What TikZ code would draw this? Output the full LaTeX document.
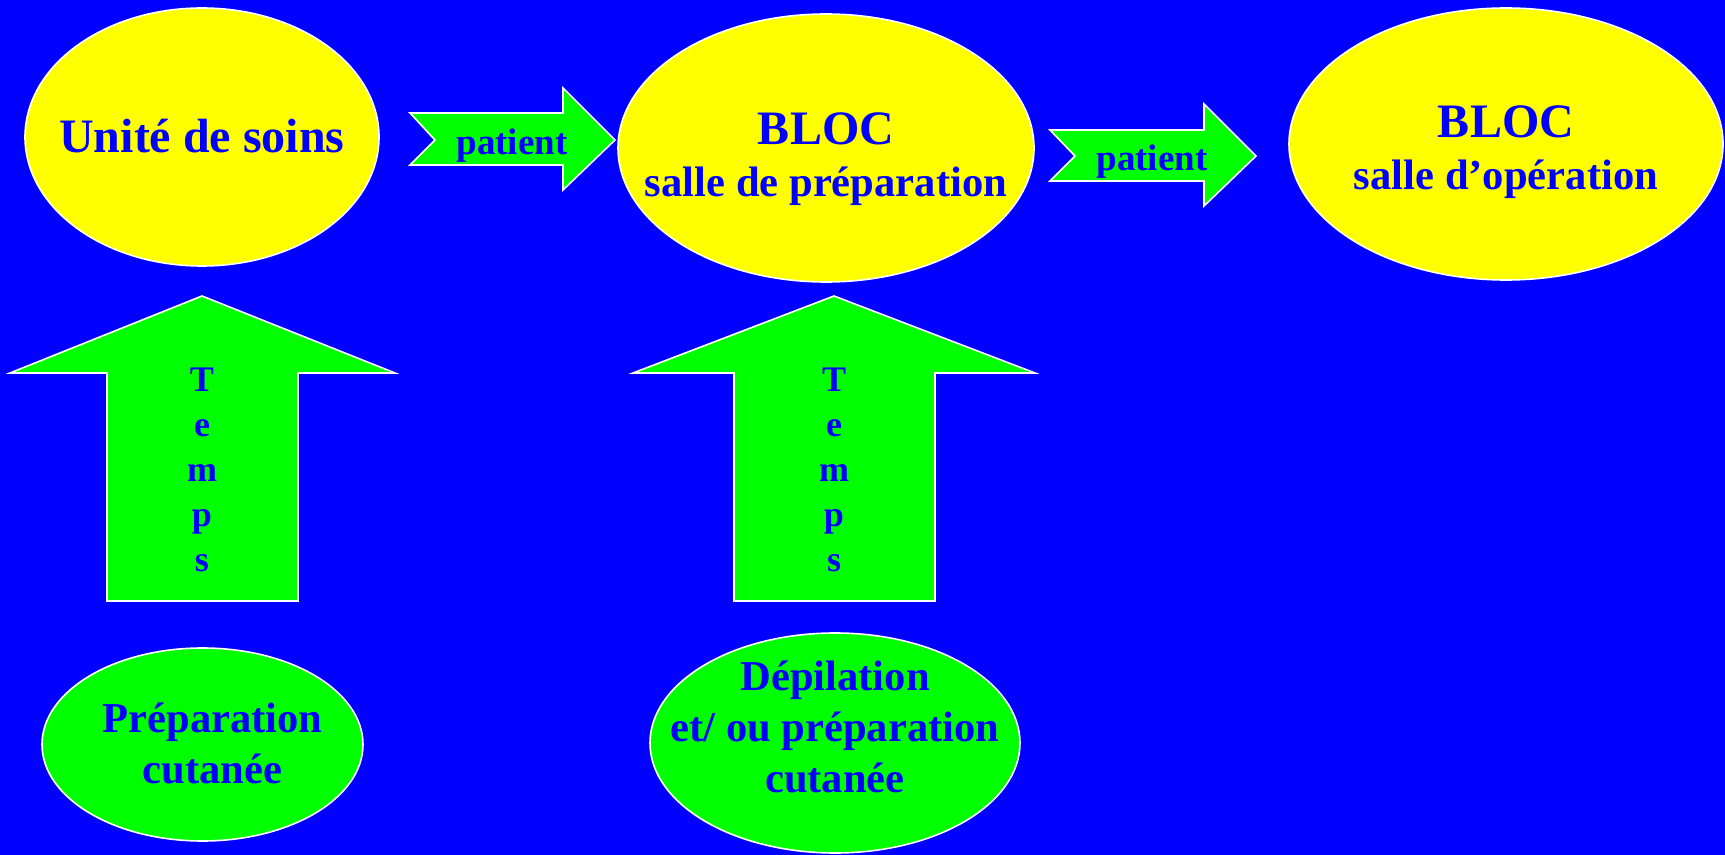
\documentclass[tikz,border=0pt]{standalone}
\usepackage{fontspec}
\setmainfont{Liberation Serif}
\usetikzlibrary{shapes.geometric}
\definecolor{bgblue}{RGB}{0,0,255}
\definecolor{roomyellow}{RGB}{255,255,0}
\definecolor{caregreen}{RGB}{0,255,0}
\newcommand{\sizeA}{\fontsize{24}{26}\selectfont}
\newcommand{\sizeB}{\fontsize{21.3}{25.5}\selectfont}
\newcommand{\nowide}[1]{\makebox[0pt]{#1}}
\tikzset{
  room/.style={ellipse,fill=roomyellow,draw=white,line width=0.8pt,inner sep=0pt,
    align=center,text=bgblue,font=\bfseries\sizeA,text depth=0pt},
  care/.style={ellipse,fill=caregreen,draw=white,line width=0.8pt,inner sep=0pt,
    align=center,text=bgblue,font=\bfseries\sizeB,text depth=0pt},
  flow/.style={fill=caregreen,draw=white,line width=0.8pt,line join=miter},
  tag/.style={inner sep=0pt,text=bgblue,font=\bfseries\fontsize{18.5}{22}\selectfont},
  vtag/.style={inner sep=0pt,align=center,text=bgblue,font=\bfseries\fontsize{18}{22.5}\selectfont}
}
\begin{document}
\begin{tikzpicture}[x=0.5pt,y=-0.5pt]
  \fill[bgblue] (0,0) rectangle (1725,855);
  \useasboundingbox (0,0) rectangle (1725,855);

  % rooms
  \node [room,minimum width=177pt,minimum height=129pt,text height=16pt] (soins) at (202,137) {\nowide{Unité de soins}};
  \node [room,minimum width=208pt,minimum height=134pt,text height=49pt] (prep)  at (826,148)
        {\nowide{BLOC}\\\nowide{\sizeB salle de préparation}};
  \node [room,minimum width=217pt,minimum height=136pt,text height=46pt] (oper)  at (1506,144)
        {\nowide{BLOC}\\\nowide{\sizeB salle d’opération}};

  % patient flow
  \draw [flow] (410,113) -- (563,113) -- (563,88) -- (615,140) -- (563,190) -- (563,165) -- (410,165) -- (435,140) -- cycle;
  \node [tag,anchor=base] (move1) at (512,155) {patient};
  \draw [flow] (1050,130) -- (1204,130) -- (1204,104) -- (1256,156) -- (1204,206) -- (1204,181) -- (1050,181) -- (1075,156) -- cycle;
  \node [tag,anchor=base] (move2) at (1152,171) {patient};

  % time arrows
  \draw [flow] (202,296) -- (395,373) -- (298,373) -- (298,601) -- (107,601) -- (107,373) -- (10,373) -- cycle;
  \node [vtag,anchor=north] (time1) at (202,368) {T\\e\\m\\p\\s};
  \draw [flow] (834,296) -- (1035,373) -- (935,373) -- (935,601) -- (734,601) -- (734,373) -- (633,373) -- cycle;
  \node [vtag,anchor=north] (time2) at (834,368) {T\\e\\m\\p\\s};

  % skin care
  \node [care,minimum width=160.5pt,minimum height=96.5pt,text height=38.5pt] (skin)  at (202.5,744.5)
        {\nowide{\hspace{10pt}Préparation}\\\nowide{\hspace{10pt}cutanée}};
  \node [care,minimum width=185pt,minimum height=110pt,text height=49pt] (shave) at (835,743)
        {\nowide{Dépilation}\\\nowide{et/ ou préparation}\\\nowide{cutanée}};
\end{tikzpicture}
\end{document}
